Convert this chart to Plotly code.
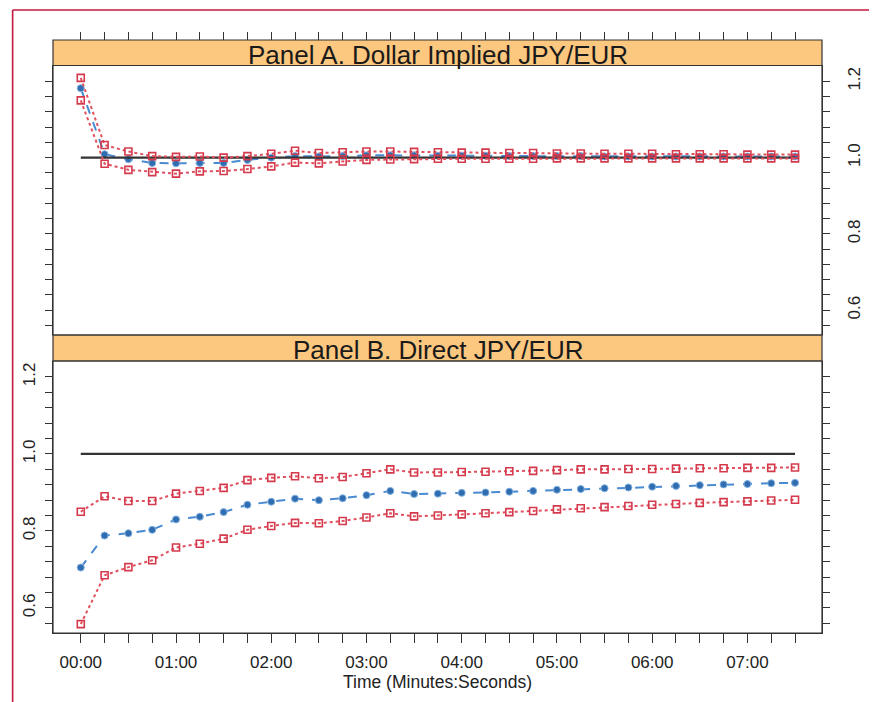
import plotly.graph_objects as go

# ---------------- data ----------------
SECONDS = [0, 15, 30, 45, 60, 75, 90, 105, 120, 135, 150, 165, 180, 195, 210, 225,
           240, 255, 270, 285, 300, 315, 330, 345, 360, 375, 390, 405, 420, 435, 450]

X_TICK_TEXT = ["00:00", "", "", "", "01:00", "", "", "", "02:00", "", "", "", "03:00", "", "", "",
               "04:00", "", "", "", "05:00", "", "", "", "06:00", "", "", "", "07:00", "", ""]

Y_TICK_VALS = [0.56, 0.60, 0.64, 0.68, 0.72, 0.76, 0.80, 0.84, 0.88, 0.92, 0.96,
               1.00, 1.04, 1.08, 1.12, 1.16, 1.20]
Y_TICK_TEXT = ["", "0.6", "", "", "", "", "0.8", "", "", "", "",
               "1.0", "", "", "", "", "1.2"]

PANEL_TITLES = ["Panel A. Dollar Implied JPY/EUR", "Panel B. Direct JPY/EUR"]
X_TITLE = "Time (Minutes:Seconds)"

REF_X = [0, 450]
REF_Y = [1.0, 1.0]

# Panel A: dollar implied
A_UPPER = [1.209, 1.033, 1.016, 1.004, 1.002, 1.003, 1.000, 1.004, 1.010, 1.018, 1.012,
           1.014, 1.016, 1.016, 1.015, 1.014, 1.013, 1.013, 1.012, 1.012, 1.011, 1.011,
           1.010, 1.010, 1.010, 1.009, 1.009, 1.009, 1.008, 1.008, 1.008]
A_MEAN = [1.182, 1.009, 0.996, 0.986, 0.985, 0.986, 0.986, 0.994, 1.000, 1.004, 1.003,
          1.004, 1.006, 1.006, 1.006, 1.005, 1.005, 1.005, 1.004, 1.004, 1.004, 1.004,
          1.003, 1.003, 1.003, 1.003, 1.003, 1.003, 1.003, 1.003, 1.003]
A_LOWER = [1.150, 0.984, 0.968, 0.962, 0.958, 0.964, 0.965, 0.970, 0.977, 0.987, 0.985,
           0.990, 0.994, 0.995, 0.996, 0.997, 0.997, 0.997, 0.997, 0.997, 0.998, 0.998,
           0.998, 0.998, 0.998, 0.998, 0.998, 0.998, 0.998, 0.998, 0.998]

# Panel B: direct
B_UPPER = [0.850, 0.890, 0.878, 0.878, 0.897, 0.904, 0.912, 0.932, 0.938, 0.942, 0.937,
           0.940, 0.950, 0.960, 0.952, 0.952, 0.953, 0.954, 0.955, 0.956, 0.958, 0.960,
           0.960, 0.961, 0.961, 0.962, 0.963, 0.963, 0.964, 0.964, 0.965]
B_MEAN = [0.705, 0.788, 0.794, 0.803, 0.830, 0.837, 0.849, 0.868, 0.876, 0.884, 0.880,
          0.885, 0.893, 0.904, 0.896, 0.897, 0.899, 0.900, 0.902, 0.904, 0.907, 0.909,
          0.911, 0.913, 0.915, 0.917, 0.919, 0.921, 0.922, 0.924, 0.925]
B_LOWER = [0.558, 0.685, 0.706, 0.724, 0.757, 0.767, 0.780, 0.803, 0.813, 0.821, 0.820,
           0.826, 0.835, 0.846, 0.838, 0.840, 0.843, 0.846, 0.849, 0.852, 0.856, 0.859,
           0.862, 0.865, 0.868, 0.870, 0.873, 0.875, 0.877, 0.879, 0.881]

# ---------------- styles ----------------
FONT = "Liberation Sans, Arial, Helvetica, sans-serif"
AX = "#333333"
RED = "#D43A4C"
RED_LINE = "#E0505E"
BLUE = "#2F6DB0"
BLUE_LINE = "#4A8AD0"
STRIP = "#FCC77F"

X_RANGE = [-17.5, 467]
Y_RANGE = [0.535, 1.2415]

# paper-domain layout
B_DOM = [0.0, 0.4587]
STRIP_B = [0.4587, 0.5025]
A_DOM = [0.5025, 0.957]
STRIP_A = [0.957, 1.0]

fig = go.Figure()


def add_panel(fig, upper, mean, lower, xa, ya):
    fig.add_trace(go.Scatter(x=SECONDS, y=mean, mode="lines+markers", xaxis=xa, yaxis=ya,
                             line=dict(color=BLUE_LINE, width=2, dash="dash"),
                             marker=dict(symbol="circle", size=7, color=BLUE,
                                         line=dict(color="#7FB0E0", width=1)),
                             showlegend=False, hoverinfo="skip"))
    fig.add_trace(go.Scatter(x=REF_X, y=REF_Y, mode="lines", xaxis=xa, yaxis=ya,
                             line=dict(color=AX, width=2.2), showlegend=False, hoverinfo="skip"))
    for s in (upper, lower):
        fig.add_trace(go.Scatter(x=SECONDS, y=s, mode="lines+markers", xaxis=xa, yaxis=ya,
                                 line=dict(color=RED_LINE, width=2, dash="dot"),
                                 marker=dict(symbol="square-open", size=7, color=RED,
                                             line=dict(width=1.6)),
                                 showlegend=False, hoverinfo="skip"))


add_panel(fig, A_UPPER, A_MEAN, A_LOWER, "x2", "y2")
add_panel(fig, B_UPPER, B_MEAN, B_LOWER, "x", "y")

tickfont = dict(family=FONT, size=17, color="#222222")

fig.update_layout(
    width=877, height=702,
    margin=dict(l=42, r=63, t=32, b=77),
    paper_bgcolor="white", plot_bgcolor="white",
    font=dict(family=FONT, color="#222222"),
    showlegend=False,
    xaxis=dict(domain=[0, 1], range=X_RANGE, anchor="y",
               tickmode="array", tickvals=SECONDS, ticktext=X_TICK_TEXT,
               ticks="outside", ticklen=9, tickwidth=1.2, tickcolor=AX,
               showline=True, linecolor=AX, linewidth=1.2, mirror=False,
               showgrid=False, zeroline=False, tickfont=tickfont, ticklabelstandoff=4,
               title=dict(text=X_TITLE, font=dict(family=FONT, size=17.5, color="#222222"),
                          standoff=0)),
    xaxis2=dict(domain=[0, 1], range=X_RANGE, matches="x", anchor="free", position=1.0,
                side="top", tickmode="array", tickvals=SECONDS, showticklabels=False,
                ticks="outside", ticklen=8, tickwidth=1.2, tickcolor=AX,
                showline=False, showgrid=False, zeroline=False),
    yaxis=dict(domain=B_DOM, range=Y_RANGE, anchor="x", side="left",
               tickmode="array", tickvals=Y_TICK_VALS, ticktext=Y_TICK_TEXT,
               tickangle=-90, ticks="outside", ticklen=7, tickwidth=1.2, tickcolor=AX,
               showline=True, linecolor=AX, linewidth=1.2, mirror="ticks",
               showgrid=False, zeroline=False, tickfont=tickfont, ticklabelstandoff=3),
    yaxis2=dict(domain=A_DOM, range=Y_RANGE, anchor="x2", side="right",
                tickmode="array", tickvals=Y_TICK_VALS, ticktext=Y_TICK_TEXT,
                tickangle=-90, ticks="outside", ticklen=7, tickwidth=1.2, tickcolor=AX,
                showline=True, linecolor=AX, linewidth=1.2, mirror="ticks",
                showgrid=False, zeroline=False, tickfont=tickfont, ticklabelstandoff=9),
)

shapes = []
for dom in (STRIP_A, STRIP_B):
    shapes.append(dict(type="rect", xref="paper", yref="paper", x0=0, x1=1, y0=dom[0], y1=dom[1],
                       fillcolor=STRIP, line=dict(color=AX, width=1.2), layer="below"))
for dom in (A_DOM, B_DOM):
    shapes.append(dict(type="rect", xref="paper", yref="paper", x0=0, x1=1, y0=dom[0], y1=dom[1],
                       fillcolor="rgba(0,0,0,0)", line=dict(color=AX, width=1.2), layer="above"))
# outer crimson frame (only top and left edges visible in the picture)
FRAME = "#C4173F"
shapes.append(dict(type="line", xref="paper", yref="paper", x0=-0.0525, x1=1.2, y0=1.0506, y1=1.0506,
                   line=dict(color=FRAME, width=1.6)))
shapes.append(dict(type="line", xref="paper", yref="paper", x0=-0.0525, x1=-0.0525, y0=-0.2, y1=1.0506,
                   line=dict(color=FRAME, width=1.6)))
fig.update_layout(shapes=shapes)

annotations = []
for title, dom in zip(PANEL_TITLES, (STRIP_A, STRIP_B)):
    annotations.append(dict(text=title, xref="paper", yref="paper", x=0.5,
                            y=(dom[0] + dom[1]) / 2 - 0.004, xanchor="center", yanchor="middle",
                            showarrow=False, font=dict(family=FONT, size=26, color="#1a1a1a")))
fig.update_layout(annotations=annotations)

fig.write_html("out.html")
